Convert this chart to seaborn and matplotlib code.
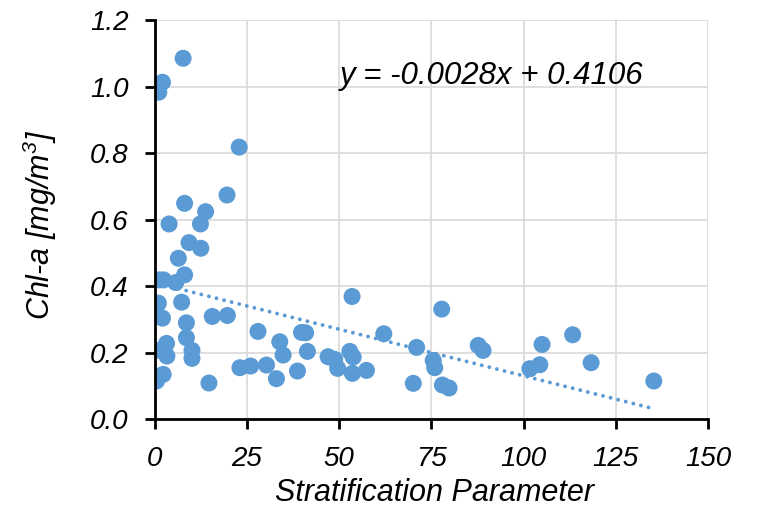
import numpy as np
import pandas as pd
import matplotlib
matplotlib.use("Agg")
import matplotlib.pyplot as plt
import seaborn as sns

# Stratification parameter vs. chlorophyll-a concentration
strat = [7.7, 2.1, 1.1, 22.9, 19.6, 8.1, 13.8, 3.9, 12.4, 9.3,
         12.5, 6.4, 8.1, 1.2, 2.4, 5.7, 1.0, 7.3, 2.1, 15.6,
         19.7, 8.6, 28.0, 8.6, 3.2, 0.3, 10.1, 3.3, 10.1, 23.1,
         26.0, 30.3, 2.3, 0.5, 14.7, 53.5, 77.8, 39.8, 40.9, 33.9,
         62.1, 71.0, 34.8, 41.4, 47.0, 48.8, 52.9, 53.8, 38.7, 33.0,
         49.6, 53.6, 57.4, 70.1, 75.5, 75.9, 78.0, 79.8, 87.7, 89.0,
         105.0, 113.3, 118.3, 101.7, 104.4, 135.3]
chla = [1.085, 1.013, 0.983, 0.818, 0.674, 0.649, 0.624, 0.587, 0.587, 0.531,
        0.514, 0.484, 0.434, 0.419, 0.419, 0.411, 0.349, 0.352, 0.304, 0.309,
        0.312, 0.290, 0.264, 0.245, 0.228, 0.207, 0.207, 0.190, 0.183, 0.155,
        0.160, 0.163, 0.135, 0.115, 0.109, 0.369, 0.331, 0.261, 0.260, 0.233,
        0.257, 0.216, 0.193, 0.204, 0.188, 0.180, 0.204, 0.187, 0.145, 0.122,
        0.153, 0.138, 0.147, 0.108, 0.177, 0.155, 0.103, 0.094, 0.222, 0.207,
        0.225, 0.254, 0.170, 0.152, 0.164, 0.115]

# Linear trend reported on the chart
slope = -0.0028
intercept = 0.4106

x_ticks = [0, 25, 50, 75, 100, 125, 150]
y_ticks = [0.0, 0.2, 0.4, 0.6, 0.8, 1.0, 1.2]

sns.set_style("white")
plt.rcParams["font.family"] = ["Liberation Sans", "DejaVu Sans"]
plt.rcParams["text.color"] = "black"
plt.rcParams["axes.labelcolor"] = "black"
plt.rcParams["xtick.color"] = "black"
plt.rcParams["ytick.color"] = "black"
plt.rcParams["mathtext.fontset"] = "custom"
plt.rcParams["mathtext.rm"] = "Liberation Sans:italic"
plt.rcParams["mathtext.it"] = "Liberation Sans:italic"

blue = "#5B9BD5"
tick_fs = 20
label_fs = 22
eq_fs = 22.5

df = pd.DataFrame({"Stratification Parameter": strat, "Chl-a": chla})

fig = plt.figure(figsize=(7.61, 5.12), dpi=100)
ax = fig.add_axes([0.2033, 0.1811, 0.7271, 0.7798])

# trend line across the data range
xs = np.array([min(strat), max(strat)])
ax.plot(xs, slope * xs + intercept, color=blue, lw=2.8,
        linestyle=(0, (0.01, 2.0)), dash_capstyle="round", zorder=2)

sns.scatterplot(data=df, x="Stratification Parameter", y="Chl-a", ax=ax,
                color=blue, s=150, edgecolor="none", linewidth=0, zorder=3)

ax.set_xlim(0, 150)
ax.set_ylim(0, 1.2)
ax.set_xticks(x_ticks)
ax.set_yticks(y_ticks)
ax.set_xticklabels([str(v) for v in x_ticks], fontsize=tick_fs, style="italic")
ax.set_yticklabels([f"{v:.1f}" for v in y_ticks], fontsize=tick_fs, style="italic")

ax.grid(True, color="#D9D9D9", lw=1.2)
ax.set_axisbelow(True)
for side in ("top", "right"):
    ax.spines[side].set_visible(False)
for side in ("left", "bottom"):
    ax.spines[side].set_color("black")
    ax.spines[side].set_linewidth(2.0)
    ax.spines[side].set_zorder(4)
ax.tick_params(axis="both", direction="out", length=7, width=2.0,
               color="black", pad=12)
ax.tick_params(left=True, bottom=True)

ax.set_xlabel("Stratification Parameter", fontsize=label_fs, style="italic")
ax.set_ylabel("Chl-a [mg/m$^3$]", fontsize=label_fs, style="italic")
ax.xaxis.set_label_coords(0.506, -0.185)
ax.yaxis.set_label_coords(-0.207, 0.486)
ax.xaxis.label.set_va("center")
ax.yaxis.label.set_va("center")

ax.text(50.2, 1.033, "y = -0.0028x + 0.4106", fontsize=eq_fs, style="italic",
        ha="left", va="center")

fig.savefig("out.png", dpi=100)
